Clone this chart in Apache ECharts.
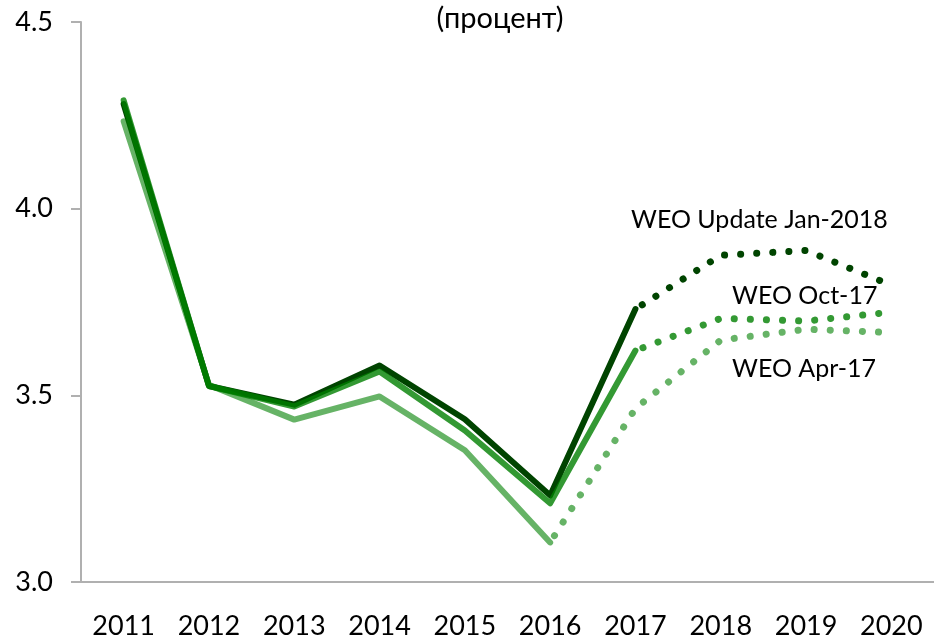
<!DOCTYPE html>
<html>
<head>
<meta charset="utf-8">
<script src="https://cdn.jsdelivr.net/npm/echarts@6/dist/echarts.min.js"></script>
<style>
  html,body{margin:0;padding:0;background:#fff;}
  #chart{width:934px;height:640px;}
</style>
</head>
<body>
<div id="chart"></div>
<script>
// годы
var years = ['2011', '2012', '2013', '2014', '2015', '2016', '2017', '2018', '2019', '2020'];
// WEO Update Jan-2018
var jan18Solid = [4.28, 3.525, 3.475, 3.58, 3.436, 3.232, 3.731, null, null, null];
var jan18Dots = [null, null, null, null, null, null, 3.731, 3.875, 3.888, 3.795];
// WEO Oct-17
var oct17Solid = [4.29, 3.525, 3.47, 3.564, 3.406, 3.211, 3.62, null, null, null];
var oct17Dots = [null, null, null, null, null, null, 3.62, 3.706, 3.699, 3.723];
// WEO Apr-17
var apr17Solid = [4.234, 3.528, 3.435, 3.497, 3.353, 3.106, null, null, null, null];
var apr17Dots = [null, null, null, null, null, 3.106, 3.465, 3.648, 3.677, 3.668];

var FONT = "Lato, 'Noto Sans', sans-serif";
var darkC = '#004400';
var midC = 'rgba(0,128,0,0.8)';
var lightC = 'rgba(0,128,0,0.6)';

function solid(name, data, color) {
  return {
    name: name, type: 'line', data: data, symbol: 'none', silent: true,
    lineStyle: { color: color, width: 6, cap: 'round', join: 'round' }
  };
}
function dots(name, data, color) {
  return {
    name: name, type: 'line', data: data, symbol: 'none', silent: true,
    lineStyle: { color: color, width: 7, cap: 'round', type: [0.1, 16], dashOffset: -8 }
  };
}

var myChart = echarts.init(document.getElementById('chart'));
myChart.setOption({
  animation: false,
  grid: { left: 81, top: 22, right: -3, bottom: 56 },
  xAxis: {
    type: 'category',
    data: years,
    boundaryGap: true,
    axisLine: { lineStyle: { color: '#b0b0b0', width: 2 } },
    axisTick: { length: 10, lineStyle: { color: '#b0b0b0', width: 2 } },
    axisLabel: { color: '#000', fontFamily: FONT, fontSize: 27, margin: 31 }
  },
  yAxis: {
    type: 'value',
    min: 3.0, max: 4.5, interval: 0.5,
    splitLine: { show: false },
    axisLine: { show: true, lineStyle: { color: '#b0b0b0', width: 2 } },
    axisTick: { show: true, length: 10, lineStyle: { color: '#b0b0b0', width: 2 } },
    axisLabel: {
      color: '#000', fontFamily: FONT, fontSize: 27, margin: 28,
      formatter: function (v) { return v.toFixed(1); }
    }
  },
  graphic: [
    { type: 'text', x: 500, y: 4, style: { text: '(процент)', font: "29px " + FONT, fill: '#000', textAlign: 'center' } },
    { type: 'text', left: 631, top: 207, style: { text: 'WEO Update Jan-2018', font: "25px " + FONT, fill: '#000' } },
    { type: 'text', left: 732, top: 283, style: { text: 'WEO Oct-17', font: "25px " + FONT, fill: '#000' } },
    { type: 'text', left: 732, top: 356, style: { text: 'WEO Apr-17', font: "25px " + FONT, fill: '#000' } }
  ],
  series: [
    solid('WEO Update Jan-2018', jan18Solid, darkC),
    dots('WEO Update Jan-2018 прогноз', jan18Dots, darkC),
    solid('WEO Apr-17', apr17Solid, lightC),
    dots('WEO Apr-17 прогноз', apr17Dots, lightC),
    solid('WEO Oct-17', oct17Solid, midC),
    dots('WEO Oct-17 прогноз', oct17Dots, midC)
  ]
});
</script>
</body>
</html>
